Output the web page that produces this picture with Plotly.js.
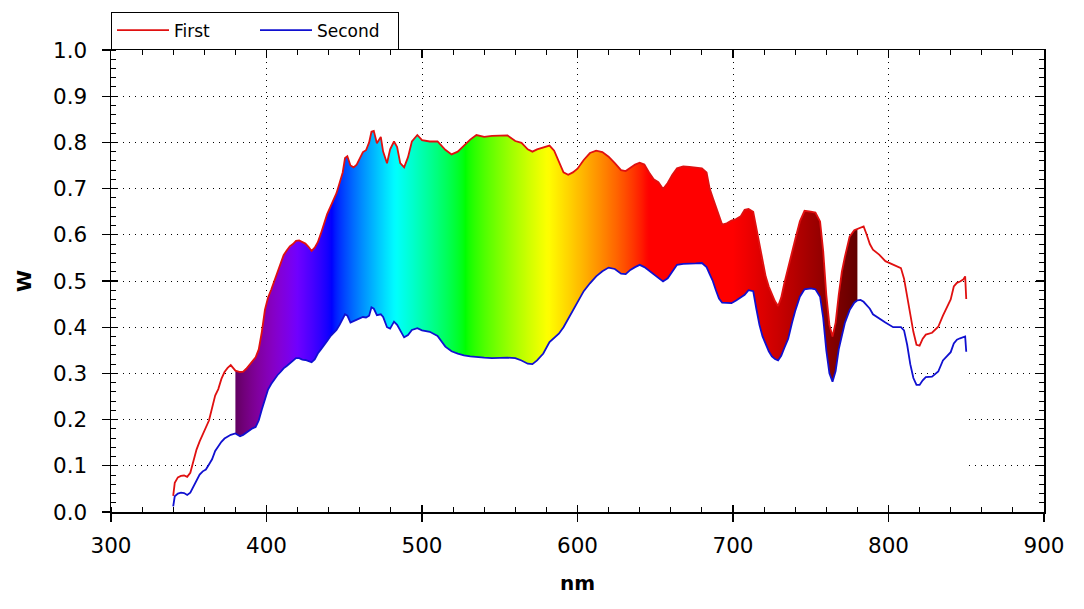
<!DOCTYPE html>
<html>
<head>
<meta charset="utf-8">
<script src="https://cdn.plot.ly/plotly-3.0.1.min.js"></script>
<style>html,body{margin:0;padding:0;background:#fff}#chart{width:1084px;height:609px}</style>
</head>
<body>
<div id="chart"></div>
<script>
// wavelength (nm)
const wl = [340,341,343,345,347,349,351,353,355,357,359,361,363,365,367,369,371,373,375,377,380,383,385,387,389,391,393,395,397,399,401,403,405,407,409,411,413,415,417,419,421,423,425,427,429,431,433,435,437,439,441,443,445,447,449,450.5,452,454,456,458,460,462,464,466,467.5,469,471,473.5,475,477.5,479.5,482,484,486,488.5,491,493.5,497,500,505,510,515,519,523,527,531,535,540,545,550,555,560,564,568,571,574,578,582,585,588,591,594,597,600,604,608,612,616,620,624,628,631,634,637,640,643,646,649,652,655,658,661,664,668,672,676,680,683,685,687,689,691,693,696,699,702,705,707.5,710,713,715,717,719,721,723,725,727,729,731,733,735.5,738,740,743,746,750,753,756,758,760,762,764,766,768,770,772,775,778,780,782,784,786,788,790,794,798,803,808,810,812,814,816,818,820,822,824,828,832,835,838,840,842,844,846,848,849.3,850];
// series "First" (red)
const first = [0.035,0.063,0.075,0.078,0.079,0.076,0.085,0.110,0.135,0.153,0.168,0.185,0.198,0.225,0.252,0.266,0.288,0.303,0.312,0.318,0.306,0.303,0.304,0.310,0.318,0.328,0.335,0.352,0.390,0.438,0.464,0.481,0.500,0.518,0.536,0.556,0.566,0.575,0.580,0.587,0.588,0.585,0.581,0.574,0.565,0.572,0.584,0.603,0.624,0.645,0.660,0.675,0.690,0.712,0.735,0.766,0.770,0.750,0.746,0.752,0.765,0.779,0.783,0.800,0.823,0.825,0.798,0.812,0.780,0.755,0.785,0.802,0.790,0.755,0.746,0.768,0.802,0.816,0.805,0.802,0.802,0.784,0.774,0.780,0.793,0.806,0.816,0.812,0.814,0.815,0.815,0.803,0.799,0.785,0.780,0.785,0.789,0.793,0.782,0.760,0.735,0.730,0.735,0.743,0.762,0.777,0.782,0.779,0.769,0.755,0.740,0.738,0.745,0.752,0.756,0.752,0.735,0.720,0.714,0.699,0.712,0.730,0.744,0.748,0.747,0.746,0.744,0.735,0.700,0.680,0.662,0.640,0.622,0.625,0.631,0.634,0.640,0.654,0.656,0.650,0.615,0.575,0.540,0.510,0.488,0.470,0.456,0.446,0.464,0.495,0.531,0.565,0.590,0.629,0.652,0.650,0.648,0.629,0.565,0.470,0.405,0.380,0.410,0.470,0.520,0.553,0.596,0.610,0.613,0.616,0.618,0.600,0.580,0.568,0.557,0.543,0.535,0.528,0.505,0.465,0.425,0.390,0.362,0.360,0.375,0.384,0.388,0.401,0.425,0.445,0.460,0.488,0.496,0.499,0.503,0.510,0.461];
// series "Second" (blue)
const second = [0.012,0.034,0.040,0.042,0.041,0.037,0.042,0.055,0.068,0.081,0.088,0.092,0.103,0.114,0.132,0.143,0.152,0.159,0.164,0.167,0.170,0.164,0.167,0.172,0.176,0.181,0.184,0.198,0.222,0.243,0.265,0.277,0.288,0.296,0.303,0.311,0.316,0.322,0.328,0.333,0.333,0.330,0.329,0.326,0.324,0.330,0.343,0.352,0.360,0.370,0.380,0.387,0.394,0.405,0.420,0.428,0.425,0.410,0.413,0.416,0.418,0.422,0.421,0.425,0.443,0.440,0.426,0.428,0.422,0.400,0.397,0.412,0.405,0.393,0.378,0.383,0.394,0.398,0.393,0.390,0.381,0.358,0.348,0.343,0.339,0.337,0.335,0.334,0.333,0.334,0.334,0.333,0.328,0.321,0.320,0.328,0.343,0.368,0.378,0.386,0.400,0.418,0.436,0.455,0.478,0.495,0.510,0.521,0.529,0.526,0.516,0.515,0.524,0.530,0.535,0.530,0.522,0.514,0.505,0.499,0.506,0.520,0.535,0.537,0.537,0.538,0.539,0.530,0.515,0.500,0.480,0.462,0.453,0.452,0.452,0.458,0.465,0.470,0.480,0.478,0.440,0.405,0.380,0.362,0.348,0.337,0.331,0.328,0.338,0.355,0.375,0.410,0.435,0.466,0.482,0.484,0.482,0.466,0.420,0.350,0.300,0.282,0.305,0.352,0.385,0.410,0.437,0.453,0.458,0.459,0.455,0.448,0.440,0.428,0.418,0.410,0.400,0.400,0.393,0.362,0.320,0.290,0.275,0.275,0.285,0.292,0.293,0.304,0.328,0.338,0.346,0.365,0.373,0.376,0.378,0.380,0.347];
const seriesNames = ['First', 'Second'];
const fillRange = [380, 780];

const FONT = 'DejaVu Sans, Verdana, sans-serif';

// visible-spectrum colour for a wavelength
function waveColor(w) {
  let r, g, b;
  if (w < 442) { r = -(w - 442) / 62; g = 0; b = 1; }
  else if (w < 483) { r = 0; g = (w - 442) / 41; b = 1; }
  else if (w < 528) { r = 0; g = 1; b = -(w - 528) / 45; }
  else if (w < 581) { r = (w - 528) / 53; g = 1; b = 0; }
  else if (w < 645) { r = 1; g = -(w - 645) / 64; b = 0; }
  else { r = 1; g = 0; b = 0; }
  let f = 1;
  if (w < 420) f = 0.3 + 0.7 * (w - 380) / 40;
  else if (w > 700) f = 0.3 + 0.7 * (780 - w) / 80;
  const c = v => Math.round(255 * Math.pow(v * f, 0.8));
  return 'rgb(' + c(r) + ',' + c(g) + ',' + c(b) + ')';
}

const scale = [];
for (let w = fillRange[0]; w <= fillRange[1]; w += 2) {
  scale.push([(w - fillRange[0]) / (fillRange[1] - fillRange[0]), waveColor(w)]);
}

// polygon between the two series inside the fill range
const idx = wl.map((w, i) => i).filter(i => wl[i] >= fillRange[0] && wl[i] <= fillRange[1]);
const polyX = idx.map(i => wl[i]).concat(idx.slice().reverse().map(i => wl[i]));
const polyY = idx.map(i => second[i]).concat(idx.slice().reverse().map(i => first[i]));

const traces = [
  { x: wl, y: second, mode: 'lines', line: { width: 0 }, fill: 'tozeroy', fillcolor: '#ffffff', showlegend: false, hoverinfo: 'skip' },
  { x: polyX, y: polyY, mode: 'lines', line: { width: 0 }, fill: 'toself',
    fillgradient: { type: 'horizontal', colorscale: scale }, showlegend: false, hoverinfo: 'skip' },
  { x: wl, y: first, name: seriesNames[0], mode: 'lines', line: { color: '#e01010', width: 1.8 } },
  { x: wl, y: second, name: seriesNames[1], mode: 'lines', line: { color: '#1010d0', width: 1.8 } },
  { x: wl, y: first, xaxis: 'x2', yaxis: 'y2', mode: 'lines', line: { width: 0 }, opacity: 0, showlegend: false, hoverinfo: 'skip' },
  { x: wl, y: first, xaxis: 'x3', yaxis: 'y3', mode: 'lines', line: { width: 0 }, opacity: 0, showlegend: false, hoverinfo: 'skip' }
];

const tickFont = { family: FONT, size: 21.5, color: '#000' };
const common = { showline: true, linecolor: '#000', linewidth: 1.5, tickcolor: '#000', tickwidth: 1.3, zeroline: false };

const layout = {
  width: 1084, height: 609,
  margin: { l: 111, r: 40, t: 50, b: 97 },
  paper_bgcolor: '#fff', plot_bgcolor: '#fff',
  showlegend: true, hovermode: false,
  font: { family: FONT, color: '#000' },
  legend: { x: 0, xanchor: 'left', y: 1.083, yanchor: 'top', orientation: 'h',
    itemwidth: 52, entrywidth: 76, entrywidthmode: 'pixels',
    bordercolor: '#000', borderwidth: 1, bgcolor: '#fff', font: { family: FONT, size: 17, color: '#000' } },
  xaxis: Object.assign({}, common, { range: [300, 900], tick0: 300, dtick: 100, ticks: 'outside', ticklen: 8,
    tickfont: tickFont, ticklabelstandoff: 6,
    showgrid: true, gridcolor: '#000', gridwidth: 1, griddash: '1px,5px',
    minor: { ticks: 'inside', ticklen: 5, dtick: 20, tickcolor: '#000', tickwidth: 1, showgrid: false },
    title: { text: 'nm', font: { family: FONT, size: 20, color: '#000', weight: 'bold' }, standoff: 18 } }),
  yaxis: Object.assign({}, common, { range: [0, 1], tick0: 0, dtick: 0.1, tickformat: '.1f', ticks: 'outside', ticklen: 8,
    tickfont: tickFont, ticklabelstandoff: 10,
    showgrid: true, gridcolor: '#000', gridwidth: 1, griddash: '1px,5px',
    minor: { ticks: 'inside', ticklen: 5, dtick: 0.02, tickcolor: '#000', tickwidth: 1, showgrid: false },
    title: { text: 'W', font: { family: FONT, size: 20, color: '#000', weight: 'bold' }, standoff: 16 } }),
  xaxis2: Object.assign({}, common, { overlaying: 'x', side: 'top', range: [300, 900], tick0: 300, dtick: 100,
    ticks: 'inside', ticklen: 8, showticklabels: false, showgrid: false,
    minor: { ticks: 'inside', ticklen: 5, dtick: 20, tickcolor: '#000', tickwidth: 1 } }),
  yaxis2: Object.assign({}, common, { overlaying: 'y', side: 'right', range: [0, 1], tick0: 0, dtick: 0.1,
    ticks: 'inside', ticklen: 8, showticklabels: false, showgrid: false,
    minor: { ticks: 'inside', ticklen: 5, dtick: 0.02, tickcolor: '#000', tickwidth: 1 } }),
  xaxis3: Object.assign({}, common, { overlaying: 'x', side: 'bottom', range: [300, 900], tick0: 300, dtick: 100,
    ticks: 'inside', ticklen: 7, showticklabels: false, showgrid: false }),
  yaxis3: Object.assign({}, common, { overlaying: 'y', side: 'left', range: [0, 1], tick0: 0, dtick: 0.1,
    ticks: 'inside', ticklen: 7, showticklabels: false, showgrid: false })
};

Plotly.newPlot('chart', traces, layout, { displayModeBar: false, staticPlot: true });
</script>
</body>
</html>
